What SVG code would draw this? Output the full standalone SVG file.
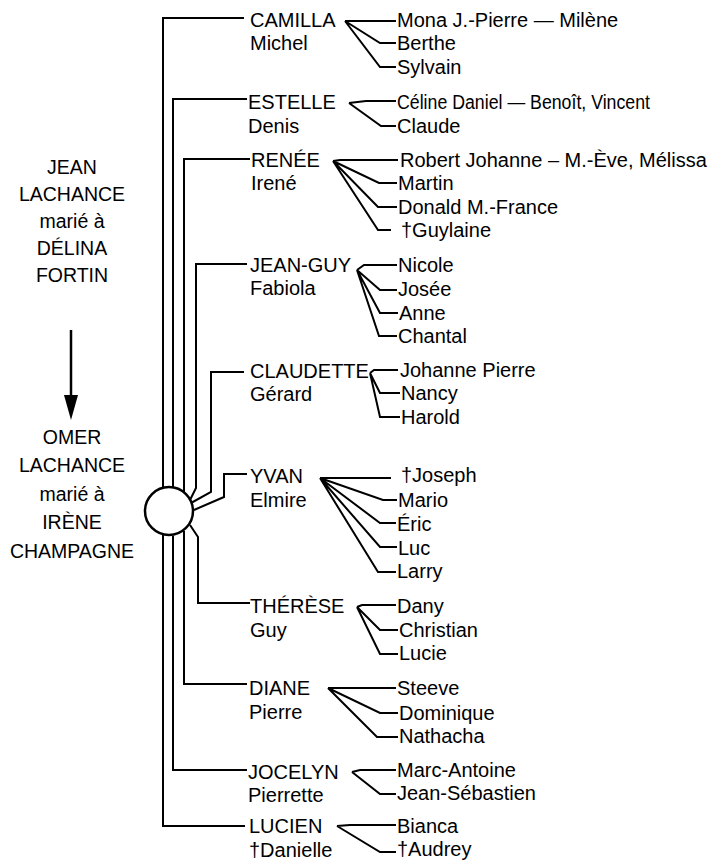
<svg xmlns="http://www.w3.org/2000/svg" width="712" height="865" viewBox="0 0 712 865">
<style>
.t{font-family:"Liberation Sans",Arial,sans-serif;font-size:20px;fill:#000}
.l{font-family:"Liberation Sans",Arial,sans-serif;font-size:19.5px;fill:#000;text-anchor:middle}
.c{fill:none;stroke:#000;stroke-width:2}
</style>
<rect width="712" height="865" fill="#fff"/>
<g id="connectors" class="c">
<path d="M163 489V18H244"/>
<path d="M173 488V99H247"/>
<path d="M184 492V159H250"/>
<path d="M190 500L196 488V264H247"/>
<path d="M191 503L211 492V372H244"/>
<path d="M194 510L224 497V474H247"/>
<path d="M190 525L198 537V603H250"/>
<path d="M184 531V684H247"/>
<path d="M173 536V770H247"/>
<path d="M163 535V826H245"/>
<path d="M71 330V398" stroke-width="2.5"/>
<path d="M345 21H396M345 21L380 43H396M345 21L380 67H396"/>
<path d="M349 103L366 101H396M349 103L381 126H396"/>
<path d="M333 161L340 160H398M333 161L379 183H397M333 161L378 207H397M333 161L378 230H391"/>
<path d="M357 270L364 265H397M357 270L380 290H397M357 270L380 313H398M357 270L379 336H397"/>
<path d="M370 373L374 370H398M370 373L380 393H400M370 373L380 417H400"/>
<path d="M320 478H391M320 478L383 500H397M320 478L380 523H396M320 478L380 547H397M320 478L378 572H396"/>
<path d="M357 607L362 605H396M357 607L380 630H398M357 607L380 654H398"/>
<path d="M328 688H396M328 688L380 713H398M328 688L377 737H398"/>
<path d="M352 772L360 770H396M352 772L380 794H396"/>
<path d="M337 826L350 825H396M337 826L380 852H396"/>
</g>
<polygon points="64,395 78,395 71,420" fill="#000"/>
<g id="ancestors-jean">
<text class="l" x="72" y="174">JEAN</text>
<text class="l" x="72" y="201">LACHANCE</text>
<text class="l" x="72" y="228">marié à</text>
<text class="l" x="72" y="255">DÉLINA</text>
<text class="l" x="72" y="282">FORTIN</text>
</g>
<g id="ancestors-omer">
<text class="l" x="72" y="444">OMER</text>
<text class="l" x="72" y="472">LACHANCE</text>
<text class="l" x="72" y="501">marié à</text>
<text class="l" x="72" y="529">IRÈNE</text>
<text class="l" x="72" y="558">CHAMPAGNE</text>
</g>
<g id="hub"><circle cx="169" cy="511" r="24" fill="#fff" stroke="#000" stroke-width="2.5"/></g>
<g id="camilla"><text class="t" x="250" y="27">CAMILLA</text><text class="t" x="250" y="50">Michel</text></g>
<g id="estelle"><text class="t" x="248" y="109">ESTELLE</text><text class="t" x="248" y="133">Denis</text></g>
<g id="renee"><text class="t" x="251" y="167">RENÉE</text><text class="t" x="251" y="190">Irené</text></g>
<g id="jeanguy"><text class="t" x="250" y="272">JEAN-GUY</text><text class="t" x="250" y="295">Fabiola</text></g>
<g id="claudette"><text class="t" x="250" y="378">CLAUDETTE</text><text class="t" x="250" y="401">Gérard</text></g>
<g id="yvan"><text class="t" x="250" y="483">YVAN</text><text class="t" x="250" y="507">Elmire</text></g>
<g id="therese"><text class="t" x="250" y="613">THÉRÈSE</text><text class="t" x="250" y="637">Guy</text></g>
<g id="diane"><text class="t" x="249" y="695">DIANE</text><text class="t" x="249" y="719">Pierre</text></g>
<g id="jocelyn"><text class="t" x="248" y="779">JOCELYN</text><text class="t" x="248" y="802">Pierrette</text></g>
<g id="lucien"><text class="t" x="249" y="833">LUCIEN</text><text class="t" x="249" y="857">†Danielle</text></g>
<g id="g-mona"><text class="t" x="397" y="27">Mona J.-Pierre — Milène</text></g>
<g id="g-berthe"><text class="t" x="397" y="50">Berthe</text></g>
<g id="g-sylvain"><text class="t" x="397" y="74">Sylvain</text></g>
<g id="g-celine"><text class="t" x="397" y="109" textLength="253" lengthAdjust="spacingAndGlyphs">Céline Daniel  — Benoît, Vincent</text></g>
<g id="g-claude"><text class="t" x="397" y="133">Claude</text></g>
<g id="g-robert"><text class="t" x="400" y="167">Robert Johanne – M.-Ève, Mélissa</text></g>
<g id="g-martin"><text class="t" x="398" y="190">Martin</text></g>
<g id="g-donald"><text class="t" x="398" y="214">Donald M.-France</text></g>
<g id="g-guylaine"><text class="t" x="401" y="237">†Guylaine</text></g>
<g id="g-nicole"><text class="t" x="398" y="272">Nicole</text></g>
<g id="g-josee"><text class="t" x="398" y="296">Josée</text></g>
<g id="g-anne"><text class="t" x="399" y="320">Anne</text></g>
<g id="g-chantal"><text class="t" x="398" y="343">Chantal</text></g>
<g id="g-johanne"><text class="t" x="400" y="377">Johanne Pierre</text></g>
<g id="g-nancy"><text class="t" x="401" y="400">Nancy</text></g>
<g id="g-harold"><text class="t" x="401" y="424">Harold</text></g>
<g id="g-joseph"><text class="t" x="401" y="482">†Joseph</text></g>
<g id="g-mario"><text class="t" x="398" y="507">Mario</text></g>
<g id="g-eric"><text class="t" x="397" y="531">Éric</text></g>
<g id="g-luc"><text class="t" x="398" y="555">Luc</text></g>
<g id="g-larry"><text class="t" x="397" y="578">Larry</text></g>
<g id="g-dany"><text class="t" x="397" y="613">Dany</text></g>
<g id="g-christian"><text class="t" x="399" y="637">Christian</text></g>
<g id="g-lucie"><text class="t" x="399" y="660">Lucie</text></g>
<g id="g-steeve"><text class="t" x="397" y="695">Steeve</text></g>
<g id="g-dominique"><text class="t" x="399" y="720">Dominique</text></g>
<g id="g-nathacha"><text class="t" x="399" y="743">Nathacha</text></g>
<g id="g-marc"><text class="t" x="397" y="777">Marc-Antoine</text></g>
<g id="g-jean-seb"><text class="t" x="397" y="800">Jean-Sébastien</text></g>
<g id="g-bianca"><text class="t" x="397" y="833">Bianca</text></g>
<g id="g-audrey"><text class="t" x="397" y="856">†Audrey</text></g>
</svg>
